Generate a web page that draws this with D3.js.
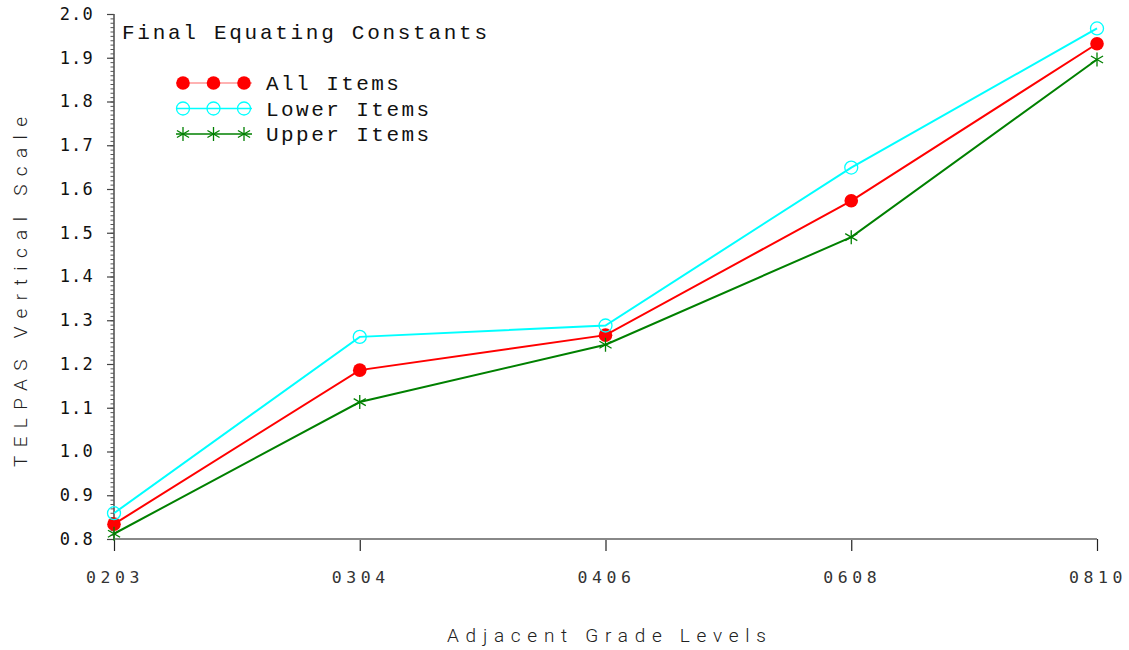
<!DOCTYPE html>
<html>
<head>
<meta charset="utf-8">
<script src="https://cdn.jsdelivr.net/npm/d3@7"></script>
<style>
  html, body { margin: 0; padding: 0; background: #fff; }
  svg { display: block; }
</style>
</head>
<body>
<svg id="chart" width="1129" height="650"></svg>
<script>
// Grade-pair categories along the x axis
const gradePairs = ["0203", "0304", "0406", "0608", "0810"];

// Equating constants for each item set
const allItems   = [0.834, 1.186, 1.266, 1.573, 1.932];
const lowerItems = [0.859, 1.262, 1.288, 1.649, 1.967];
const upperItems = [0.812, 1.113, 1.244, 1.490, 1.896];

// Y axis tick labels
const yTicks = [0.8, 0.9, 1.0, 1.1, 1.2, 1.3, 1.4, 1.5, 1.6, 1.7, 1.8, 1.9, 2.0];

const seriesNames = ["All Items", "Lower Items", "Upper Items"];

const series = [
  { name: seriesNames[0], values: allItems,   color: "#ff0000", marker: "dot" },
  { name: seriesNames[1], values: lowerItems, color: "#00ffff", marker: "ring" },
  { name: seriesNames[2], values: upperItems, color: "#008000", marker: "star" }
];

const svg = d3.select("#chart");

const x = d3.scalePoint().domain(gradePairs).range([114, 1097]);
const y = d3.scaleLinear().domain([0.8, 2.0]).range([539, 14]);

// Marker drawing helper
function drawMarker(g, kind, color, cx, cy) {
  if (kind === "dot") {
    g.append("circle").attr("cx", cx).attr("cy", cy).attr("r", 6.8)
      .attr("fill", color);
  } else if (kind === "ring") {
    g.append("circle").attr("cx", cx).attr("cy", cy).attr("r", 6.5)
      .attr("fill", "none").attr("stroke", color).attr("stroke-width", 1.3);
  } else {
    const r = 7;
    const a = Math.PI / 6;
    const segs = [
      [cx, cy - r, cx, cy + r],
      [cx - r * Math.cos(a), cy - r * Math.sin(a), cx + r * Math.cos(a), cy + r * Math.sin(a)],
      [cx - r * Math.cos(a), cy + r * Math.sin(a), cx + r * Math.cos(a), cy - r * Math.sin(a)]
    ];
    segs.forEach(s => g.append("line")
      .attr("x1", s[0]).attr("y1", s[1]).attr("x2", s[2]).attr("y2", s[3])
      .attr("stroke", color).attr("stroke-width", 1.3));
  }
}

// Y axis with minor ticks every 0.01
const yAxisG = svg.append("g").attr("transform", "translate(114,0)");
yAxisG.call(d3.axisLeft(y).tickValues(d3.range(80, 201).map(d => d / 100))
    .tickSize(3.5).tickFormat(""))
  .call(g => g.select(".domain").remove())
  .call(g => g.selectAll(".tick line").attr("stroke", "#555").attr("stroke-width", 1));
yAxisG.append("g")
  .call(d3.axisLeft(y).tickValues(yTicks).tickSize(7).tickPadding(13)
    .tickFormat(d3.format(".1f")))
  .call(g => g.select(".domain").remove())
  .call(g => g.selectAll(".tick line").attr("stroke", "#444").attr("stroke-width", 1.2))
  .call(g => g.selectAll(".tick text")
    .attr("font-family", "DejaVu Sans Mono")
    .attr("font-size", 17)
    .attr("letter-spacing", 1.2)
    .attr("fill", "#111"));
yAxisG.append("line")
  .attr("x1", 0).attr("x2", 0).attr("y1", y(2.0)).attr("y2", y(0.8))
  .attr("stroke", "#555").attr("stroke-width", 1.6);

// X axis
const xAxisG = svg.append("g").attr("transform", "translate(0,539)");
xAxisG.call(d3.axisBottom(x).tickSize(12).tickPadding(20))
  .call(g => g.select(".domain").remove())
  .call(g => g.selectAll(".tick line").attr("stroke", "#222").attr("stroke-width", 1.2))
  .call(g => g.selectAll(".tick text")
    .attr("font-family", "DejaVu Sans Mono")
    .attr("font-size", 16.5)
    .attr("letter-spacing", 4.6)
    .attr("dx", 0.5)
    .attr("fill", "#333"));
xAxisG.append("line")
  .attr("x1", 114).attr("x2", 1097).attr("y1", 0).attr("y2", 0)
  .attr("stroke", "#888").attr("stroke-width", 2.2);

// Series lines and markers
const line = d3.line().x((d, i) => x(gradePairs[i])).y(d => y(d));
series.forEach(s => {
  svg.append("path").datum(s.values)
    .attr("d", line)
    .attr("fill", "none")
    .attr("stroke", s.color)
    .attr("stroke-width", 2);
});
series.forEach(s => {
  const g = svg.append("g");
  s.values.forEach((v, i) => drawMarker(g, s.marker, s.color, x(gradePairs[i]), y(v)));
});

// Title inside plot
svg.append("text")
  .attr("x", 122).attr("y", 39)
  .attr("font-family", "Liberation Mono")
  .attr("font-size", 21)
  .attr("textLength", 365).attr("lengthAdjust", "spacing")
  .attr("fill", "#111")
  .text("Final Equating Constants");

// Legend
const legendY = [83, 108.5, 134];
series.forEach((s, i) => {
  const g = svg.append("g");
  g.append("line")
    .attr("x1", 176).attr("x2", 252).attr("y1", legendY[i]).attr("y2", legendY[i])
    .attr("stroke", s.color).attr("stroke-width", i === 0 ? 1.2 : 1.4)
    .attr("stroke-opacity", i === 0 ? 0.6 : 1);
  [183, 213.5, 244].forEach(cx => drawMarker(g, s.marker, s.color, cx, legendY[i]));
  g.append("text")
    .attr("x", 266).attr("y", legendY[i] + 7)
    .attr("font-family", "Liberation Mono")
    .attr("font-size", 21)
    .attr("textLength", s.name.length * 15.1 - 3).attr("lengthAdjust", "spacing")
    .attr("fill", "#111")
    .text(s.name);
});

// Axis titles
svg.append("text")
  .attr("x", 447).attr("y", 642)
  .attr("font-family", "Roboto")
  .attr("font-weight", 300)
  .attr("font-size", 19)
  .attr("textLength", 319).attr("lengthAdjust", "spacing")
  .attr("fill", "#222")
  .text("Adjacent Grade Levels");

svg.append("text")
  .attr("transform", "translate(27,467) rotate(-90)")
  .attr("x", 0).attr("y", 0)
  .attr("font-family", "Roboto")
  .attr("font-weight", 300)
  .attr("font-size", 19)
  .attr("textLength", 350).attr("lengthAdjust", "spacing")
  .attr("fill", "#222")
  .text("TELPAS Vertical Scale");
</script>
</body>
</html>
